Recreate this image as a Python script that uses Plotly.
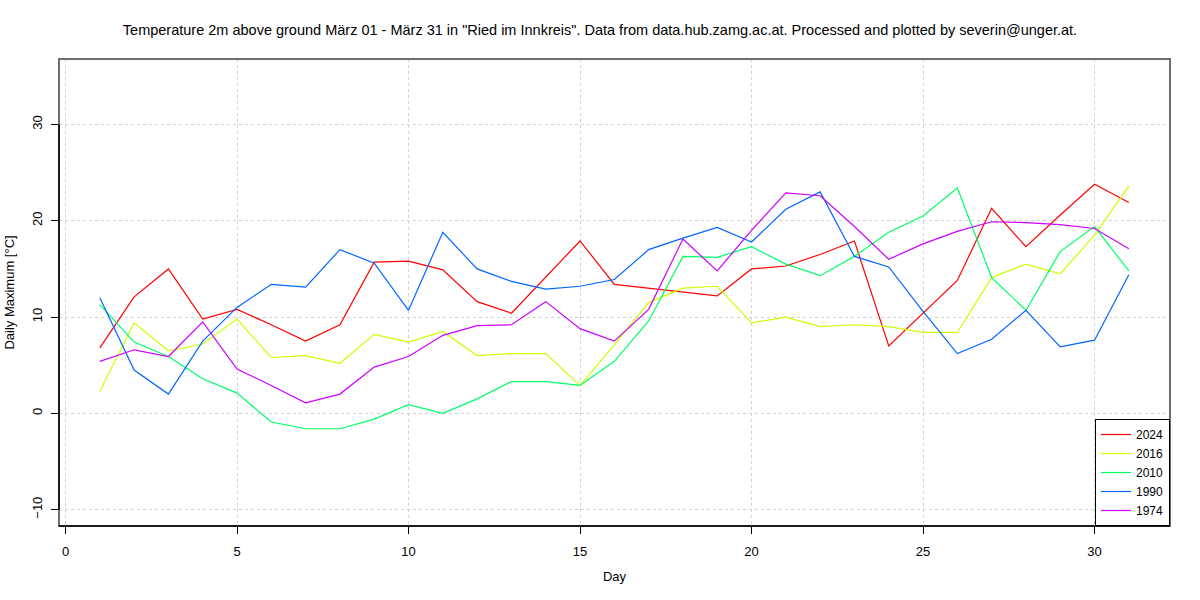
import plotly.graph_objects as go

days = list(range(1, 32))
years = ["2024", "2016", "2010", "1990", "1974"]
colors = ["#FF0000", "#CCFF00", "#00FF66", "#0066FF", "#CC00FF"]

t2024 = [6.8, 12.1, 15.0, 9.8, 10.8, 9.2, 7.5, 9.2, 15.7, 15.8, 14.9, 11.6, 10.4, 14.2, 17.9, 13.4,
         13.0, 12.6, 12.2, 15.0, 15.3, 16.5, 17.9, 7.0, 10.4, 13.8, 21.3, 17.3, 20.6, 23.8, 21.9]
t2016 = [2.3, 9.4, 6.5, 7.2, 9.8, 5.8, 6.0, 5.2, 8.2, 7.4, 8.5, 6.0, 6.2, 6.2, 2.9, 7.1,
         11.5, 13.0, 13.2, 9.4, 10.0, 9.0, 9.2, 9.0, 8.4, 8.4, 14.1, 15.5, 14.5, 18.5, 23.6]
t2010 = [11.3, 7.4, 5.9, 3.6, 2.1, -0.9, -1.6, -1.6, -0.6, 0.9, 0.0, 1.5, 3.3, 3.3, 2.9, 5.4,
         9.6, 16.3, 16.2, 17.3, 15.5, 14.3, 16.3, 18.8, 20.5, 23.4, 14.1, 10.7, 16.8, 19.4, 14.8]
t1990 = [12.0, 4.5, 2.0, 7.5, 11.0, 13.4, 13.1, 17.0, 15.6, 10.7, 18.8, 15.0, 13.7, 12.9, 13.2, 13.9,
         17.0, 18.2, 19.3, 17.8, 21.2, 23.0, 16.3, 15.2, 10.6, 6.2, 7.7, 10.7, 6.9, 7.6, 14.4]
t1974 = [5.4, 6.6, 5.9, 9.5, 4.6, 2.9, 1.1, 2.0, 4.8, 5.9, 8.1, 9.1, 9.2, 11.6, 8.8, 7.5,
         10.8, 18.1, 14.8, 19.0, 22.9, 22.6, 19.4, 16.0, 17.6, 18.9, 19.9, 19.8, 19.6, 19.2, 17.1]
series = [t2024, t2016, t2010, t1990, t1974]

x_ticks = [0, 5, 10, 15, 20, 25, 30]
y_ticks = [-10, 0, 10, 20, 30]

title = ('Temperature 2m above ground März 01 - März 31 in "Ried im Innkreis". '
         'Data from data.hub.zamg.ac.at. Processed and plotted by severin@unger.at.')

FONT = "Liberation Sans, Arial, Helvetica, sans-serif"

fig = go.Figure()
for name, col, vals in zip(years, colors, series):
    fig.add_trace(go.Scatter(x=days, y=vals, mode="lines", name=name,
                             line=dict(color=col, width=1.2)))

fig.update_layout(
    width=1200, height=600,
    margin=dict(l=59, r=30, t=59, b=74, autoexpand=False),
    paper_bgcolor="white", plot_bgcolor="white",
    font=dict(family=FONT, size=13, color="black"),
    title=dict(text=title, x=0.5, xref="container", xanchor="center",
               y=1 - 30 / 600, yref="container", yanchor="middle",
               font=dict(family=FONT, size=14.5, color="black")),
    showlegend=True,
    legend=dict(x=1, y=0, xanchor="right", yanchor="bottom",
                bordercolor="black", borderwidth=1, bgcolor="white",
                font=dict(family=FONT, size=12, color="black"),
                itemwidth=30, tracegroupgap=0),
)

fig.update_xaxes(
    range=[-0.19, 32.2], tickmode="array", tickvals=x_ticks,
    ticks="outside", ticklen=7, tickcolor="black", tickwidth=1,
    showgrid=True, gridcolor="#D3D3D3", griddash="dot", gridwidth=1,
    zeroline=False, showline=False, automargin=False,
    title=dict(text="Day", standoff=14, font=dict(size=13)),
    tickfont=dict(size=13), ticklabelstandoff=6,
)
fig.update_yaxes(
    range=[-11.7, 36.8], tickmode="array", tickvals=y_ticks,
    ticks="outside", ticklen=7, tickcolor="black", tickwidth=1,
    showgrid=True, gridcolor="#D3D3D3", griddash="dot", gridwidth=1,
    zeroline=False, showline=False, tickangle=-90, automargin=False,
    title=dict(text="Daily Maximum [°C]", standoff=12, font=dict(size=13)),
    tickfont=dict(size=13), ticklabelstandoff=4,
)

# plot frame
fig.add_shape(type="rect", xref="paper", yref="paper", x0=0, x1=1, y0=0, y1=1,
              line=dict(color="#6E6E6E", width=2), fillcolor="rgba(0,0,0,0)", layer="above")
# axis lines (R style)
fig.add_shape(type="line", xref="paper", yref="paper", x0=0, x1=1, y0=0, y1=0,
              line=dict(color="black", width=1.5), layer="above")
fig.add_shape(type="line", xref="paper", yref="y", x0=0, x1=0, y0=y_ticks[0], y1=y_ticks[-1],
              line=dict(color="black", width=1.5), layer="above")

fig.write_html("out.html")
